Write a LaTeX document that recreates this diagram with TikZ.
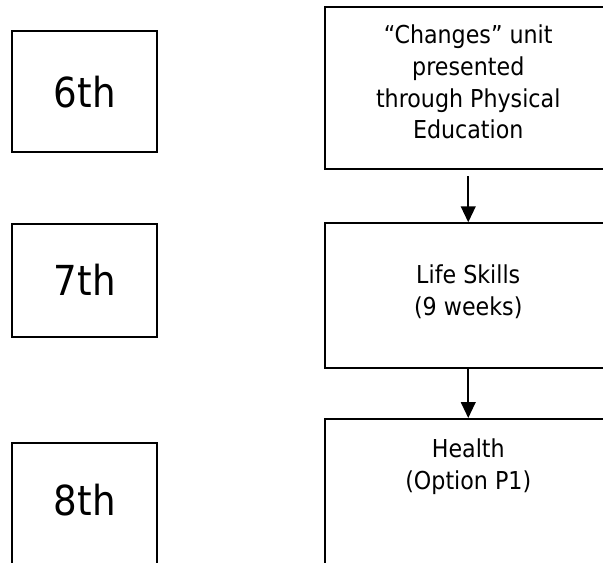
\documentclass[tikz,border=0pt]{standalone}
\usepackage{fontspec}
\setmainfont{DejaVu Sans Condensed}
\usetikzlibrary{arrows.meta}
\usetikzlibrary{positioning}

\begin{document}
\begin{tikzpicture}[
			x=0.75pt, y=-0.75pt,
			grade/.style={draw=black, line width=1.5pt, minimum width=108.4pt, font=\fontsize{31}{37}\selectfont},
			course/.style={draw=black, line width=1.5pt, minimum width=215.6pt},
			coursetext/.style={align=center, font=\fontsize{18.5}{23.8}\selectfont},
			flow/.style={>={Triangle[length=12pt,width=11pt]}, draw=black, line width=1.5pt}
			]
			\useasboundingbox (0,0) rectangle (603,562);
			
			%% grade column
			\node[grade, minimum height=90.4pt] (six) at (84.75,91.75) {6th};
			\node[grade, minimum height=84.75pt] (seven) at (84.75,280) {7th};
			\node[grade, minimum height=118pt] (eight) at (84.75,521.35) {};
			\node[font=\fontsize{31}{37}\selectfont] (eightlbl) at (84.75,500) {8th};
			
			%% course column
			\node[course, minimum height=122pt] (changes) at (468.25,88) {};
			\node[coursetext] (changeslbl) at (468.25,82) {“Changes” unit\\presented\\through Physical\\Education};
			
			\node[course, minimum height=108.3pt] (life) at (468.25,295.5) {};
			\node[coursetext] (lifelbl) at (468.25,292) {Life Skills\\(9 weeks)};
			
			\node[course, minimum height=135.75pt] (health) at (468.25,509.5) {};
			\node[coursetext] (healthlbl) at (468.25,467) {Health\\(Option P1)};
			
			%% arrows
			\draw[flow, ->] ([yshift=-4.5pt]changes.south) -- (life.north);
			\draw[flow, ->] (life.south) -- (health.north);
			
\end{tikzpicture}
\end{document}
